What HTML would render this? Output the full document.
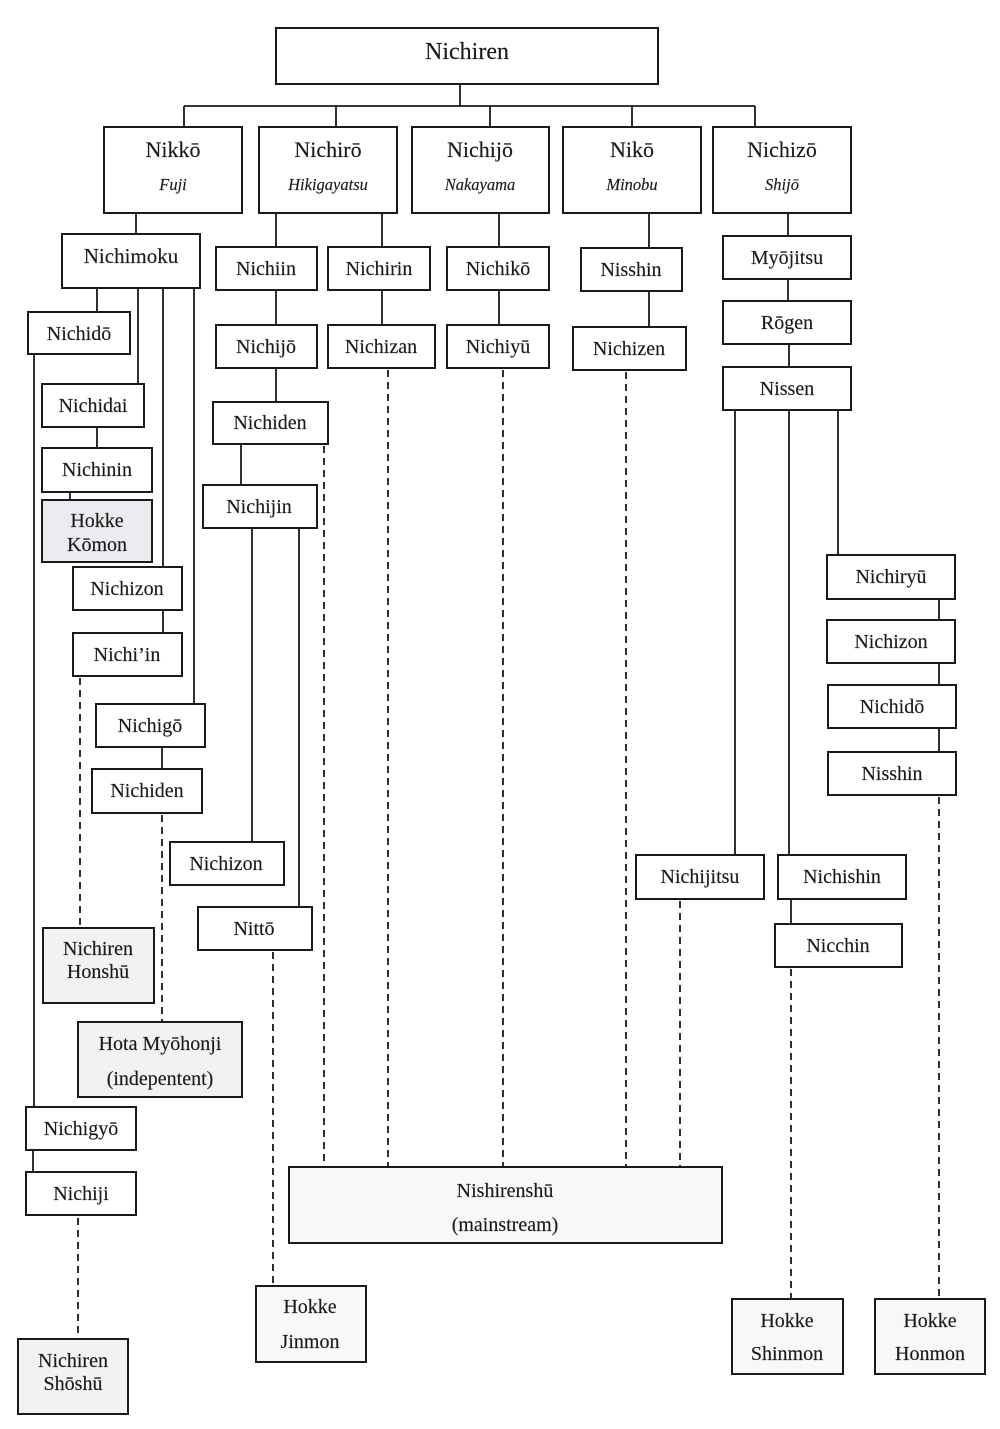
<!DOCTYPE html>
<html>
<head>
<meta charset="utf-8">
<style>
html,body{margin:0;padding:0;background:#fff;}
svg{display:block;}
text{font-family:"Liberation Serif",serif;fill:#1a1a1a;text-anchor:middle;stroke:#1a1a1a;stroke-width:0.15;}
.b{fill:#fff;stroke:#1a1a1a;stroke-width:2;}
.g{fill:#ececf0;stroke:#1a1a1a;stroke-width:2;}
.l{fill:#f2f2f3;stroke:#1a1a1a;stroke-width:2;}
.w{fill:#f8f8f8;stroke:#1a1a1a;stroke-width:2;}
.s{stroke:#1a1a1a;stroke-width:1.8;fill:none;}
.d{stroke:#1a1a1a;stroke-width:1.8;fill:none;stroke-dasharray:7,5;}
.t{font-size:20px;}
.tt{font-size:22px;}
.it{font-size:16.5px;font-style:italic;}
</style>
</head>
<body>
<svg width="1000" height="1429" viewBox="0 0 1000 1429" xmlns="http://www.w3.org/2000/svg">
<!-- connectors solid -->
<path class="s" d="M460 84V106 M184 106H755 M184 106V127 M336 106V127 M490 106V127 M632 106V127 M755 106V127"/>
<path class="s" d="M136 213V234 M97 288V312 M138 288V384 M163 288V567 M194 288V704 M34 354V1107 M97 427V448 M70 492V500 M163 610V633 M162 747V769 M33 1150V1172"/>
<path class="s" d="M276 213V247 M382 213V247 M276 290V325 M382 290V325 M276 368V402 M241 444V485 M252 528V842 M299 528V907"/>
<path class="s" d="M499 213V247 M499 290V325 M649 213V248 M649 291V327"/>
<path class="s" d="M788 213V236 M788 279V301 M789 344V367 M735 410V855 M789 410V855 M838 410V555 M939 599V620 M939 663V685 M939 728V752 M791 899V924"/>
<!-- dashed -->
<path class="d" d="M80 678V928 M162 815V1022 M78 1218V1339 M273 952V1286 M324 446V1167 M388 370V1167 M503 370V1167 M626 372V1167 M680 901V1167 M791 969V1299 M939 797V1299"/>

<!-- boxes -->
<rect class="b" x="276" y="28" width="382" height="56"/>
<text x="467" y="59" style="font-size:24px">Nichiren</text>

<rect class="b" x="104" y="127" width="138" height="86"/>
<text class="tt" x="173" y="157">Nikkō</text><text class="it" x="173" y="190">Fuji</text>
<rect class="b" x="259" y="127" width="138" height="86"/>
<text class="tt" x="328" y="157">Nichirō</text><text class="it" x="328" y="190">Hikigayatsu</text>
<rect class="b" x="412" y="127" width="137" height="86"/>
<text class="tt" x="480" y="157">Nichijō</text><text class="it" x="480" y="190">Nakayama</text>
<rect class="b" x="563" y="127" width="138" height="86"/>
<text class="tt" x="632" y="157">Nikō</text><text class="it" x="632" y="190">Minobu</text>
<rect class="b" x="713" y="127" width="138" height="86"/>
<text class="tt" x="782" y="157">Nichizō</text><text class="it" x="782" y="190">Shijō</text>

<!-- Fuji branch -->
<rect class="b" x="62" y="234" width="138" height="54"/><text x="131" y="263" style="font-size:21px">Nichimoku</text>
<rect class="b" x="28" y="312" width="102" height="42"/><text class="t" x="79" y="340">Nichidō</text>
<rect class="b" x="42" y="384" width="102" height="43"/><text class="t" x="93" y="412">Nichidai</text>
<rect class="b" x="42" y="448" width="110" height="44"/><text class="t" x="97" y="476">Nichinin</text>
<rect class="g" x="42" y="500" width="110" height="62"/><text class="t" x="97" y="527">Hokke</text><text class="t" x="97" y="551">Kōmon</text>
<rect class="b" x="73" y="567" width="109" height="43"/><text class="t" x="127" y="595">Nichizon</text>
<rect class="b" x="73" y="633" width="109" height="43"/><text class="t" x="127" y="661">Nichi’in</text>
<rect class="b" x="96" y="704" width="109" height="43"/><text class="t" x="150" y="732">Nichigō</text>
<rect class="b" x="92" y="769" width="110" height="44"/><text class="t" x="147" y="797">Nichiden</text>
<rect class="l" x="43" y="928" width="111" height="75"/><text class="t" x="98" y="955">Nichiren</text><text class="t" x="98" y="978">Honshū</text>
<rect class="l" x="78" y="1022" width="164" height="75"/><text class="t" x="160" y="1050">Hota Myōhonji</text><text class="t" x="160" y="1085">(indepentent)</text>
<rect class="b" x="26" y="1107" width="110" height="43"/><text class="t" x="81" y="1135">Nichigyō</text>
<rect class="b" x="26" y="1172" width="110" height="43"/><text class="t" x="81" y="1200">Nichiji</text>
<rect class="l" x="18" y="1339" width="110" height="75"/><text class="t" x="73" y="1367">Nichiren</text><text class="t" x="73" y="1390">Shōshū</text>

<!-- Hikigayatsu branch -->
<rect class="b" x="216" y="247" width="101" height="43"/><text class="t" x="266" y="275">Nichiin</text>
<rect class="b" x="328" y="247" width="102" height="43"/><text class="t" x="379" y="275">Nichirin</text>
<rect class="b" x="216" y="325" width="101" height="43"/><text class="t" x="266" y="353">Nichijō</text>
<rect class="b" x="328" y="325" width="107" height="43"/><text class="t" x="381" y="353">Nichizan</text>
<rect class="b" x="213" y="402" width="115" height="42"/><text class="t" x="270" y="429">Nichiden</text>
<rect class="b" x="203" y="485" width="114" height="43"/><text class="t" x="259" y="513">Nichijin</text>
<rect class="b" x="170" y="842" width="114" height="43"/><text class="t" x="226" y="870">Nichizon</text>
<rect class="b" x="198" y="907" width="114" height="43"/><text class="t" x="254" y="935">Nittō</text>
<rect class="w" x="256" y="1286" width="110" height="76"/><text class="t" x="310" y="1313">Hokke</text><text class="t" x="310" y="1348">Jinmon</text>

<!-- Nakayama branch -->
<rect class="b" x="447" y="247" width="102" height="43"/><text class="t" x="498" y="275">Nichikō</text>
<rect class="b" x="447" y="325" width="102" height="43"/><text class="t" x="498" y="353">Nichiyū</text>

<!-- Minobu branch -->
<rect class="b" x="581" y="248" width="101" height="43"/><text class="t" x="631" y="276">Nisshin</text>
<rect class="b" x="573" y="327" width="113" height="43"/><text class="t" x="629" y="355">Nichizen</text>

<!-- Shijo branch -->
<rect class="b" x="723" y="236" width="128" height="43"/><text class="t" x="787" y="264">Myōjitsu</text>
<rect class="b" x="723" y="301" width="128" height="43"/><text class="t" x="787" y="329">Rōgen</text>
<rect class="b" x="723" y="367" width="128" height="43"/><text class="t" x="787" y="395">Nissen</text>
<rect class="b" x="827" y="555" width="128" height="44"/><text class="t" x="891" y="583">Nichiryū</text>
<rect class="b" x="827" y="620" width="128" height="43"/><text class="t" x="891" y="648">Nichizon</text>
<rect class="b" x="828" y="685" width="128" height="43"/><text class="t" x="892" y="713">Nichidō</text>
<rect class="b" x="828" y="752" width="128" height="43"/><text class="t" x="892" y="780">Nisshin</text>
<rect class="b" x="636" y="855" width="128" height="44"/><text class="t" x="700" y="883">Nichijitsu</text>
<rect class="b" x="778" y="855" width="128" height="44"/><text class="t" x="842" y="883">Nichishin</text>
<rect class="b" x="775" y="924" width="127" height="43"/><text class="t" x="838" y="952">Nicchin</text>
<rect class="w" x="732" y="1299" width="111" height="75"/><text class="t" x="787" y="1327">Hokke</text><text class="t" x="787" y="1360">Shinmon</text>
<rect class="w" x="875" y="1299" width="110" height="75"/><text class="t" x="930" y="1327">Hokke</text><text class="t" x="930" y="1360">Honmon</text>

<!-- mainstream -->
<rect class="w" x="289" y="1167" width="433" height="76"/>
<text class="t" x="505" y="1197">Nishirenshū</text><text class="t" x="505" y="1231">(mainstream)</text>
</svg>
</body>
</html>
